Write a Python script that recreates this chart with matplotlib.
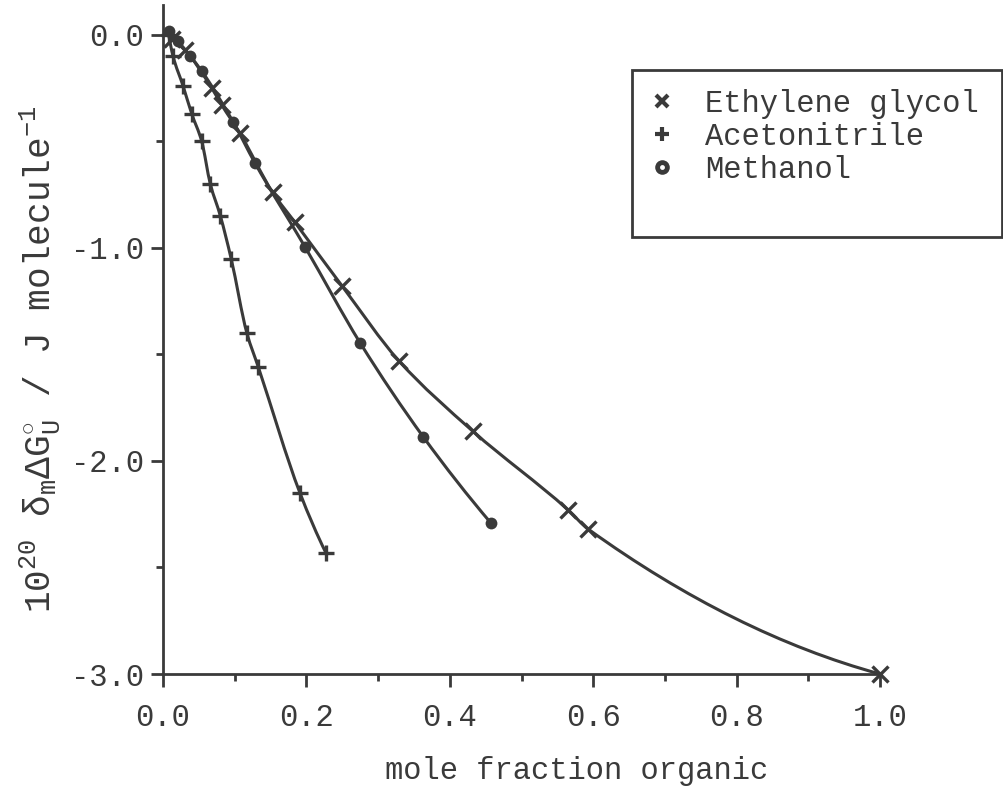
import numpy as np
import matplotlib
matplotlib.use("Agg")
import matplotlib.pyplot as plt
from matplotlib.path import Path
from matplotlib.patches import PathPatch, Rectangle
from matplotlib.lines import Line2D
from matplotlib.legend_handler import HandlerTuple
from matplotlib.ticker import MultipleLocator, FormatStrFormatter

# ---------------- data ----------------
eg_x = [0.012, 0.030, 0.068, 0.082, 0.107, 0.153, 0.184, 0.250, 0.329, 0.432, 0.565, 0.593, 1.000]
eg_y = [-0.02, -0.07, -0.25, -0.33, -0.46, -0.74, -0.88, -1.18, -1.53, -1.86, -2.23, -2.32, -3.00]

acn_x = [0.008, 0.014, 0.028, 0.040, 0.054, 0.066, 0.080, 0.095, 0.117, 0.133, 0.191, 0.227]
acn_y = [0.00, -0.10, -0.24, -0.37, -0.50, -0.70, -0.85, -1.05, -1.40, -1.56, -2.15, -2.43]

meoh_x = [0.008, 0.021, 0.038, 0.054, 0.098, 0.128, 0.198, 0.275, 0.363, 0.457]
meoh_y = [0.02, -0.03, -0.10, -0.17, -0.41, -0.60, -0.995, -1.446, -1.887, -2.290]

labels = ["Ethylene glycol", "Acetonitrile", "Methanol"]
x_ticks = [0.0, 0.2, 0.4, 0.6, 0.8, 1.0]
y_ticks = [0.0, -1.0, -2.0, -3.0]

# ---------------- style ----------------
INK = "#3a3a3a"
plt.rcParams["font.family"] = ["Liberation Mono", "DejaVu Sans"]
plt.rcParams["mathtext.fontset"] = "custom"
plt.rcParams["mathtext.rm"] = "Liberation Mono"
plt.rcParams["mathtext.it"] = "Liberation Mono"
plt.rcParams["mathtext.bf"] = "Liberation Mono:bold"


def smooth_path(x, y):
    """Monotone cubic Bezier path through the data points."""
    x = np.asarray(x, float)
    y = np.asarray(y, float)
    h = np.diff(x)
    s = np.diff(y) / h
    n = len(x)
    d = np.zeros(n)
    for k in range(1, n - 1):
        if s[k - 1] * s[k] > 0:
            w1 = 2 * h[k] + h[k - 1]
            w2 = h[k] + 2 * h[k - 1]
            d[k] = (w1 + w2) / (w1 / s[k - 1] + w2 / s[k])
    d0 = 2 * s[0] - d[1]
    d[0] = d0 if d0 * s[0] > 0 else s[0]
    dn = 2 * s[-1] - d[-2]
    d[-1] = dn if dn * s[-1] > 0 else s[-1]
    verts = [(x[0], y[0])]
    codes = [Path.MOVETO]
    for i in range(n - 1):
        verts += [(x[i] + h[i] / 3, y[i] + d[i] * h[i] / 3),
                  (x[i + 1] - h[i] / 3, y[i + 1] - d[i + 1] * h[i] / 3),
                  (x[i + 1], y[i + 1])]
        codes += [Path.CURVE4] * 3
    return Path(verts, codes)


fig = plt.figure(figsize=(10.04, 7.87), dpi=100)
ax = fig.add_axes([163 / 1004, 1 - 674 / 787, (880 - 163) / 1004, (674 - 5) / 787])
ax.set_xlim(0.0, 1.0)
ax.set_ylim(-3.0, 0.14)

for xs, ys in [(eg_x, eg_y), (acn_x, acn_y), (meoh_x, meoh_y)]:
    ax.add_patch(PathPatch(smooth_path(xs, ys), fill=False, edgecolor=INK,
                           lw=2.2, capstyle="round", joinstyle="round", clip_on=False))

ax.plot(eg_x, eg_y, ls="none", marker="x", ms=11, mew=2.4, color=INK, clip_on=False)
ax.plot(acn_x, acn_y, ls="none", marker="+", ms=11, mew=2.4, color=INK, clip_on=False)
ax.plot(meoh_x, meoh_y, ls="none", marker="o", ms=8.5, mew=0, color=INK, clip_on=False)

# axes look
for side in ["top", "right"]:
    ax.spines[side].set_visible(False)
for side in ["left", "bottom"]:
    ax.spines[side].set_linewidth(2.0)
    ax.spines[side].set_color(INK)

ax.set_xticks(x_ticks)
ax.set_yticks(y_ticks)
ax.xaxis.set_minor_locator(MultipleLocator(0.1))
ax.yaxis.set_minor_locator(MultipleLocator(0.5))
ax.xaxis.set_major_formatter(FormatStrFormatter("%.1f"))
ax.yaxis.set_major_formatter(FormatStrFormatter("%.1f"))
ax.tick_params(which="major", direction="out", length=9, width=2.0, color=INK,
               labelsize=22, labelcolor=INK)
ax.tick_params(which="minor", direction="out", length=5, width=2.0, color=INK)
ax.tick_params(axis="x", which="major", pad=12)
ax.tick_params(axis="y", which="major", pad=5)

ax.set_xlabel("mole fraction organic", fontsize=22, color=INK)
ax.xaxis.set_label_coords(0.577, -0.123)
ax.set_ylabel(r"$10^{20}$ $\delta_{m}\Delta$G$^{\circ}_{U}$ / J molecule$^{-1}$",
              fontsize=26, color=INK)
ax.yaxis.set_label_coords(-0.14, 0.47)

# legend with its own frame
fig.patches.append(Rectangle((632 / 1004, 1 - 237 / 787), 370 / 1004, 167 / 787,
                             transform=fig.transFigure, fill=False,
                             edgecolor=INK, lw=2.0))
h_eg = Line2D([], [], ls="none", marker="x", ms=9, mew=3.0, color=INK)
h_acn = Line2D([], [], ls="none", marker="+", ms=10, mew=3.0, color=INK)
h_me = Line2D([], [], ls="none", marker="o", ms=10.5, mew=0, color=INK)
h_dot = Line2D([], [], ls="none", marker="o", ms=3.5, mew=0, color="white")
leg = fig.legend([h_eg, h_acn, (h_me, h_dot)], labels,
                 loc="upper left", bbox_to_anchor=(647 / 1004, 1 - 89 / 787),
                 frameon=False, fontsize=22, handlelength=1.0, handletextpad=0.9,
                 labelspacing=0.1, borderpad=0.0, borderaxespad=0.0,
                 handler_map={tuple: HandlerTuple(ndivide=1)})
for t in leg.get_texts():
    t.set_color(INK)

fig.savefig("out.png", dpi=100)
